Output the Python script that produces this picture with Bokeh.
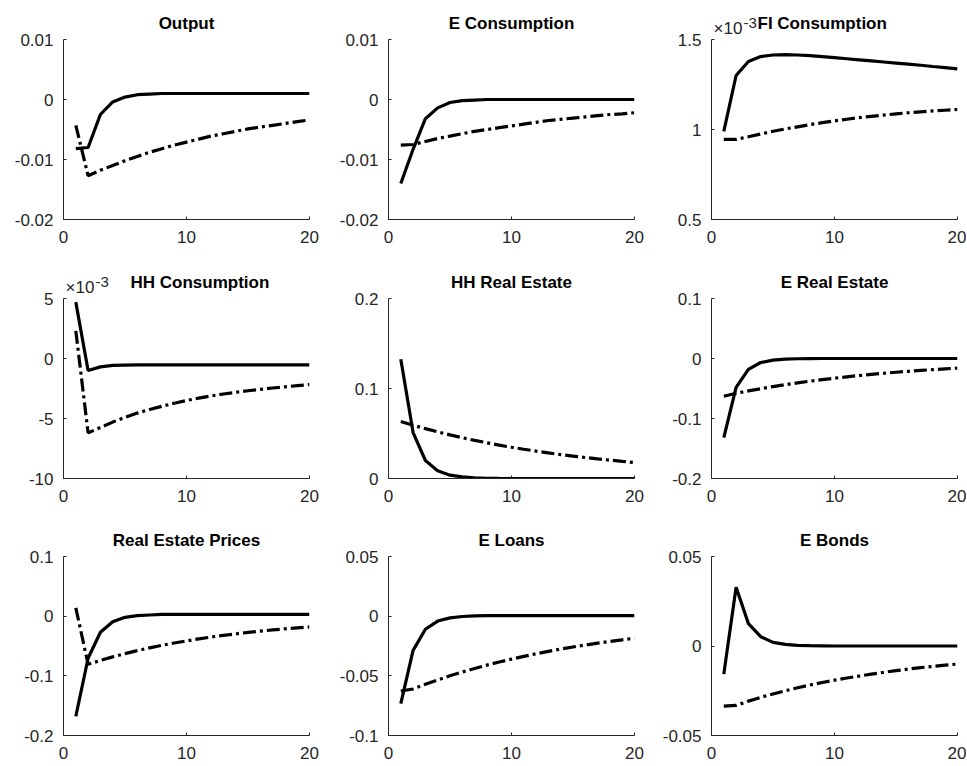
from bokeh.plotting import figure
from bokeh.layouts import column, row
from bokeh.models import FixedTicker, Label
from bokeh.embed import file_html
from bokeh.resources import INLINE

# ---------------- data ----------------
periods = list(range(1, 21))
xticks = [0, 10, 20]

titles = ["Output", "E Consumption", "FI Consumption",
          "HH Consumption", "HH Real Estate", "E Real Estate",
          "Real Estate Prices", "E Loans", "E Bonds"]

output_solid = [-0.0082, -0.0080, -0.0025, -0.0004, 0.0004, 0.0008, 0.0009, 0.0010, 0.0010, 0.0010,
                0.0010, 0.0010, 0.0010, 0.0010, 0.0010, 0.0010, 0.0010, 0.0010, 0.0010, 0.0010]
output_dash = [-0.0043, -0.0127, -0.0118, -0.0110, -0.0102, -0.0095, -0.0088, -0.0082, -0.0076, -0.0071,
               -0.0066, -0.0061, -0.0057, -0.0053, -0.0049, -0.0046, -0.0043, -0.0040, -0.0037, -0.0034]

econs_solid = [-0.0140, -0.0083, -0.0032, -0.0014, -0.0005, -0.0002, -0.0001, 0.0, 0.0, 0.0,
               0.0, 0.0, 0.0, 0.0, 0.0, 0.0, 0.0, 0.0, 0.0, 0.0]
econs_dash = [-0.0076, -0.0075, -0.0070, -0.0065, -0.0061, -0.0057, -0.0053, -0.0050, -0.0047, -0.0044,
              -0.0041, -0.0038, -0.0035, -0.0033, -0.0031, -0.0029, -0.0027, -0.0025, -0.0024, -0.0022]

# FI consumption, in units of 1e-3
ficons_solid = [0.990, 1.300, 1.378, 1.405, 1.414, 1.416, 1.414, 1.410, 1.405, 1.399,
                1.393, 1.387, 1.381, 1.375, 1.369, 1.363, 1.357, 1.350, 1.344, 1.337]
ficons_dash = [0.945, 0.945, 0.960, 0.975, 0.990, 1.003, 1.015, 1.027, 1.038, 1.048,
               1.057, 1.066, 1.073, 1.080, 1.087, 1.093, 1.098, 1.103, 1.107, 1.111]

# HH consumption, in units of 1e-3
hhcons_solid = [4.70, -1.00, -0.70, -0.58, -0.55, -0.53, -0.53, -0.53, -0.53, -0.53,
                -0.53, -0.53, -0.53, -0.53, -0.53, -0.53, -0.53, -0.53, -0.53, -0.53]
hhcons_dash = [2.30, -6.20, -5.75, -5.30, -4.90, -4.55, -4.25, -3.98, -3.73, -3.50,
               -3.30, -3.12, -2.96, -2.82, -2.69, -2.57, -2.46, -2.36, -2.26, -2.17]

hhre_solid = [0.1326, 0.0510, 0.0200, 0.0085, 0.0037, 0.0018, 0.0008, 0.0003, 0.0001, 0.0,
              0.0, 0.0, 0.0, 0.0, 0.0, 0.0, 0.0, 0.0, 0.0, 0.0]
hhre_dash = [0.0633, 0.0592, 0.0554, 0.0518, 0.0485, 0.0453, 0.0424, 0.0397, 0.0371, 0.0347,
             0.0325, 0.0304, 0.0284, 0.0266, 0.0249, 0.0233, 0.0218, 0.0204, 0.0190, 0.0178]

ere_solid = [-0.1320, -0.0480, -0.0180, -0.0067, -0.0028, -0.0010, -0.0004, -0.0001, 0.0, 0.0,
             0.0, 0.0, 0.0, 0.0, 0.0, 0.0, 0.0, 0.0, 0.0, 0.0]
ere_dash = [-0.0630, -0.0580, -0.0540, -0.0503, -0.0468, -0.0436, -0.0406, -0.0378, -0.0352, -0.0328,
            -0.0305, -0.0284, -0.0264, -0.0246, -0.0229, -0.0213, -0.0199, -0.0185, -0.0172, -0.0160]

rep_solid = [-0.1680, -0.0706, -0.0270, -0.0094, -0.0020, 0.0010, 0.0020, 0.0030, 0.0030, 0.0030,
             0.0030, 0.0030, 0.0030, 0.0030, 0.0030, 0.0030, 0.0030, 0.0030, 0.0030, 0.0030]
rep_dash = [0.0140, -0.0806, -0.0742, -0.0682, -0.0628, -0.0578, -0.0531, -0.0489, -0.0450, -0.0414,
            -0.0381, -0.0350, -0.0322, -0.0296, -0.0273, -0.0251, -0.0231, -0.0212, -0.0195, -0.0180]

eloans_solid = [-0.0732, -0.0287, -0.0110, -0.0041, -0.0014, -0.0003, 0.0003, 0.0005, 0.0005, 0.0005,
                0.0005, 0.0005, 0.0005, 0.0005, 0.0005, 0.0005, 0.0005, 0.0005, 0.0005, 0.0005]
eloans_dash = [-0.0627, -0.0610, -0.0571, -0.0535, -0.0500, -0.0468, -0.0438, -0.0410, -0.0384, -0.0360,
               -0.0337, -0.0315, -0.0295, -0.0276, -0.0258, -0.0242, -0.0226, -0.0212, -0.0198, -0.0185]

ebonds_solid = [-0.0157, 0.0328, 0.0125, 0.0052, 0.0020, 0.0009, 0.0004, 0.0002, 0.0001, 0.0,
                0.0, 0.0, 0.0, 0.0, 0.0, 0.0, 0.0, 0.0, 0.0, 0.0]
ebonds_dash = [-0.0336, -0.0332, -0.0308, -0.0287, -0.0268, -0.0250, -0.0233, -0.0218, -0.0204, -0.0191,
               -0.0179, -0.0168, -0.0157, -0.0147, -0.0138, -0.0129, -0.0121, -0.0114, -0.0107, -0.0101]

yticks_a = [-0.02, -0.01, 0, 0.01]
ylabels_a = ["-0.02", "-0.01", "0", "0.01"]
yticks_fi = [0.5, 1, 1.5]
ylabels_fi = ["0.5", "1", "1.5"]
yticks_hh = [-10, -5, 0, 5]
ylabels_hh = ["-10", "-5", "0", "5"]
yticks_hhre = [0, 0.1, 0.2]
ylabels_hhre = ["0", "0.1", "0.2"]
yticks_re = [-0.2, -0.1, 0, 0.1]
ylabels_re = ["-0.2", "-0.1", "0", "0.1"]
yticks_loans = [-0.1, -0.05, 0, 0.05]
ylabels_loans = ["-0.1", "-0.05", "0", "0.05"]
yticks_bonds = [-0.05, 0, 0.05]
ylabels_bonds = ["-0.05", "0", "0.05"]

exponent_base = "×10"
exponent_power = "-3"

panels = [
    (output_solid, output_dash, yticks_a, ylabels_a, False),
    (econs_solid, econs_dash, yticks_a, ylabels_a, False),
    (ficons_solid, ficons_dash, yticks_fi, ylabels_fi, True),
    (hhcons_solid, hhcons_dash, yticks_hh, ylabels_hh, True),
    (hhre_solid, hhre_dash, yticks_hhre, ylabels_hhre, False),
    (ere_solid, ere_dash, yticks_re, ylabels_re, False),
    (rep_solid, rep_dash, yticks_re, ylabels_re, False),
    (eloans_solid, eloans_dash, yticks_loans, ylabels_loans, False),
    (ebonds_solid, ebonds_dash, yticks_bonds, ylabels_bonds, False),
]
title_offsets = {2: 46, 3: 67}

FONT = "Liberation Sans"
AX = "#262626"

FRAME_W = 246
LEFT, TOP = 63, 39
RIGHTS = [16, 14, 9]
FRAME_HS = [180, 180, 179]
BOTTOMS = [40, 39, 30]


def style_axes(p, yt, yl):
    p.xaxis.ticker = FixedTicker(ticks=xticks)
    p.yaxis.ticker = FixedTicker(ticks=yt)
    p.yaxis.major_label_overrides = dict(zip(yt, yl))
    p.yaxis.bounds = (yt[0], yt[-1])
    for ax in (p.xaxis, p.yaxis):
        ax.axis_line_color = AX
        ax.axis_line_width = 1
        ax.major_tick_line_color = AX
        ax.major_tick_in = 3
        ax.major_tick_out = 0
        ax.minor_tick_line_color = None
        ax.major_label_text_font = FONT
        ax.major_label_text_font_size = "17px"
        ax.major_label_text_color = AX
    p.xaxis.major_label_standoff = 11
    p.yaxis.major_label_standoff = 10


def make_panel(k):
    solid, dash, yt, yl, expo = panels[k]
    c, r = k % 3, k // 3
    right = RIGHTS[c]
    bottom = BOTTOMS[r]
    fh = FRAME_HS[r]
    # the frame reaches up to the top of the figure; the axis stops at the
    # last tick and the title (and exponent) sit above it as labels
    span = yt[-1] - yt[0]
    y_top = yt[-1] + span * TOP / fh
    p = figure(width=LEFT + FRAME_W + right, height=TOP + fh + bottom, title=None,
               x_range=(xticks[0], xticks[-1]), y_range=(yt[0], y_top),
               output_backend="svg", toolbar_location=None, tools="",
               min_border_left=LEFT, min_border_right=right,
               min_border_top=0, min_border_bottom=bottom)
    p.outline_line_color = None
    p.grid.visible = False
    p.background_fill_color = "white"
    p.border_fill_color = "white"
    style_axes(p, yt, yl)

    p.line(periods, solid, line_color="black", line_width=3.2)
    p.line(periods, dash, line_color="black", line_width=3.2, line_dash="13 4 3 4")

    if k in title_offsets:
        tx, toff, talign = xticks[0], title_offsets[k], "left"
    else:
        tx, toff, talign = (xticks[0] + xticks[-1]) / 2, 0, "center"
    p.add_layout(Label(x=tx, y=yt[-1], text=titles[k], x_offset=toff, y_offset=16,
                       text_font=FONT, text_font_size="17px", text_font_style="bold",
                       text_color="black", text_baseline="alphabetic", text_align=talign))
    if expo:
        p.add_layout(Label(x=xticks[0], y=yt[-1], text=exponent_base, x_offset=2, y_offset=11,
                           text_font=FONT, text_font_size="17px", text_color=AX,
                           text_baseline="alphabetic", text_align="left"))
        p.add_layout(Label(x=xticks[0], y=yt[-1], text=exponent_power, x_offset=32, y_offset=17,
                           text_font=FONT, text_font_size="15px", text_color=AX,
                           text_baseline="alphabetic", text_align="left"))
    return p


figs = [make_panel(k) for k in range(9)]
layout = column(row(*figs[0:3]), row(*figs[3:6]), row(*figs[6:9]))

open("out.html", "w").write(file_html(layout, INLINE))
